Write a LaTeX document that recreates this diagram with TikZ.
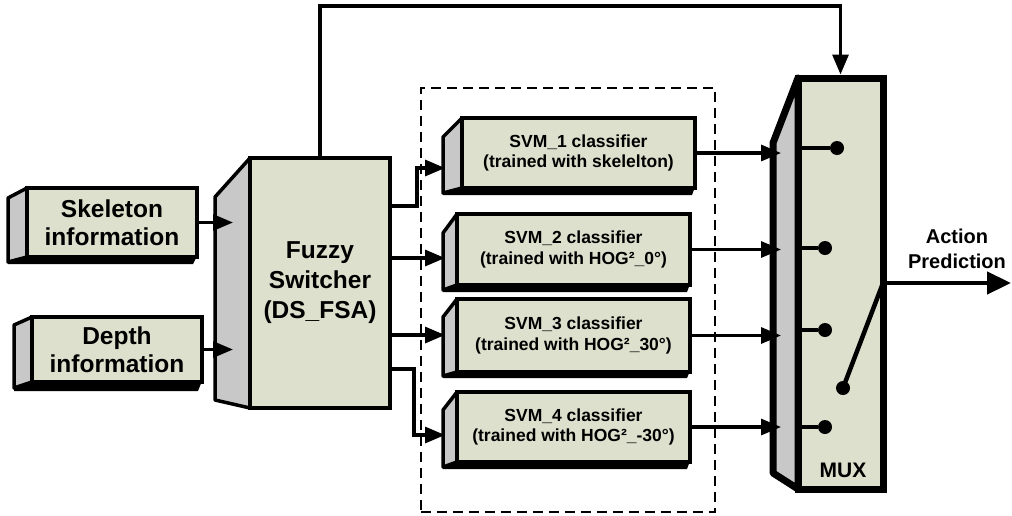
\documentclass[tikz,border=0pt]{standalone}
\usepackage{fontspec}
\setmainfont{Liberation Sans}
\usetikzlibrary{arrows.meta,calc}
\definecolor{facec}{RGB}{221,224,204}
\definecolor{sidec}{RGB}{200,200,200}
\newcommand\fbig{\fontsize{24.5}{28}\selectfont\bfseries}
\newcommand\ffuz{\fontsize{24.5}{30}\selectfont\bfseries}
\newcommand\fsvm{\fontsize{17.5}{20.5}\selectfont\bfseries}
\newcommand\fact{\fontsize{20}{25}\selectfont\bfseries}
\newcommand\fmux{\fontsize{21}{22}\selectfont\bfseries}
\begin{document}
\begin{tikzpicture}[x=1pt,y=-1pt,
  face/.style={draw=black,line width=4pt,fill=facec,inner sep=0pt,align=center,line join=miter},
  side/.style={draw=black,line width=3.5pt,fill=sidec,line join=round},
  strip/.style={fill=black},
  conn/.style={line width=3.2pt,-{Triangle[length=20pt,width=16pt]}},
  stub/.style={line width=4.5pt},
  dot/.style={circle,fill=black,inner sep=0pt,minimum size=14pt},
  grpbox/.style={draw=black,line width=1.8pt,dash pattern=on 10pt off 6pt,inner sep=0pt},
  outarrow/.style={line width=4.5pt,-{Triangle[length=24pt,width=22pt]}}]
\useasboundingbox (0,0) rectangle (1012,515);

% dashed group frame
\node[grpbox,minimum width=294pt,minimum height=424pt] (grp) at (568,300) {};

% Skeleton box
\fill[strip] (8,262)--(27,256)--(197,256)--(193,264)--(8,264)--cycle;
\draw[side] (8,198)--(27,188)--(27,257)--(8,262)--cycle;
\node[face,minimum width=170pt,minimum height=69pt,font=\fbig] (skel) at (112,222.5) {Skeleton\\information};

% Depth box
\fill[strip] (14,388)--(32,381)--(202,381)--(198,391)--(14,391)--cycle;
\draw[side] (14,325)--(32,317)--(32,382)--(14,388)--cycle;
\node[face,minimum width=170pt,minimum height=65pt,font=\fbig] (depth) at (117,349.5) {Depth\\information};

% Fuzzy switcher
\draw[side] (215,197)--(250,158)--(250,408)--(215,400)--cycle;
\node[face,minimum width=140pt,minimum height=250pt,font=\ffuz] (fuzzy) at (320,283) {Fuzzy\\Switcher\\(DS\_FSA)};

% SVM boxes
\fill[strip] (443,193)--(462,187)--(695,187)--(692,195)--(443,195)--cycle;
\draw[side] (443,137)--(462,118)--(462,188)--(443,193)--cycle;
\node[face,minimum width=233pt,minimum height=70pt,font=\fsvm] (svm1) at (578.5,153) {SVM\_1 classifier\\(trained with skelelton)};

\fill[strip] (443,290)--(457,284)--(690,284)--(687,292)--(443,292)--cycle;
\draw[side] (443,233)--(457,214)--(457,285)--(443,290)--cycle;
\node[face,minimum width=233pt,minimum height=71pt,font=\fsvm] (svm2) at (573.5,249.5) {SVM\_2 classifier\\(trained with HOG²\_0°)};

\fill[strip] (443,376)--(457,371)--(690,371)--(687,378)--(443,378)--cycle;
\draw[side] (443,317)--(457,299)--(457,372)--(443,376)--cycle;
\node[face,minimum width=233pt,minimum height=73pt,font=\fsvm] (svm3) at (573.5,335.5) {SVM\_3 classifier\\(trained with HOG²\_30°)};

\fill[strip] (443,467)--(457,461)--(690,461)--(687,469)--(443,469)--cycle;
\draw[side] (443,410)--(457,392)--(457,462)--(443,467)--cycle;
\node[face,minimum width=233pt,minimum height=70pt,font=\fsvm] (svm4) at (573.5,427) {SVM\_4 classifier\\(trained with HOG²\_-30°)};

% MUX
\draw[side,line width=7pt,line join=round] (773,143)--(798,78)--(798,489)--(773,473)--cycle;
\node[face,line width=7pt,minimum width=85pt,minimum height=411pt] (mux) at (840.5,283.5) {};
\node[font=\fmux] (muxlbl) at (843,470) {MUX};

% helper coordinates
\coordinate (fzin) at (233,0);
\coordinate (svin) at (445,0);
\coordinate (muxin) at (781,0);
\coordinate (mout) at (883,283);
\coordinate (outend) at (1011,283);

% inputs to fuzzy
\draw[conn] (skel.east) -- (skel.east -| fzin);
\draw[conn] (depth.east) -- (depth.east -| fzin);

% fuzzy to SVMs
\draw[conn] ($(fuzzy.north east)+(0,50)$) -- ++(25,0) |- (svin |- 0,168);
\draw[conn] (fuzzy.east |- 0,258) -- (svin |- 0,258);
\draw[conn] (fuzzy.east |- 0,335) -- (svin |- 0,335);
\draw[conn] (fuzzy.east |- 0,369) -- ++(22,0) |- (svin |- 0,435);

% top feedback line
\draw[conn] (fuzzy.north) -- ++(0,-150) -| (mux.north);

% SVMs to MUX
\draw[conn] (svm1.east) -- (svm1.east -| muxin);
\draw[conn] (svm2.east) -- (svm2.east -| muxin);
\draw[conn] (svm3.east) -- (svm3.east -| muxin);
\draw[conn] (svm4.east) -- (svm4.east -| muxin);

% MUX internals
\node[dot] (d1) at (837,148) {};
\node[dot] (d2) at (825,248) {};
\node[dot] (d3) at (825,330) {};
\node[dot] (d4) at (825,427) {};
\node[dot] (ds) at (843,388) {};
\draw[stub] (mux.west |- d1) -- (d1);
\draw[stub] (mux.west |- d2) -- (d2);
\draw[stub] (mux.west |- d3) -- (d3);
\draw[stub] (mux.west |- d4) -- (d4);
\draw[stub] (ds.center) -- (mout);

% output
\draw[outarrow] (mout) -- (outend);
\node[font=\fact,align=center] (act) at (957,249) {Action\\Prediction};
\end{tikzpicture}
\end{document}
